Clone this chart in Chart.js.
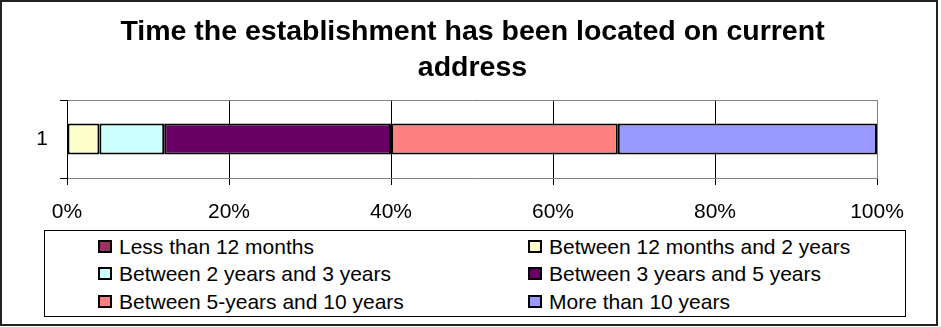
<!DOCTYPE html>
<html>
<head>
<meta charset="utf-8">
<script src="https://cdn.jsdelivr.net/npm/chart.js@4/dist/chart.umd.min.js"></script>
<style>
  html, body { margin: 0; padding: 0; background: #fff; }
  #wrap { position: relative; width: 941px; height: 327px; }
  #legend {
    position: absolute; left: 44px; top: 230px; width: 862px; height: 87px;
    border: 1px solid #000; box-sizing: border-box; background: #fff;
    font-family: "Liberation Sans", Arial, sans-serif; font-size: 21px; color: #000;
  }
  .item { position: absolute; height: 24px; line-height: 24px; white-space: nowrap; }
  .swatch { position: absolute; left: 0; top: 5px; width: 14px; height: 13px;
            border: 2px solid #000; box-sizing: border-box; }
  .label { position: absolute; left: 21px; top: 0; }
</style>
</head>
<body>
<div id="wrap">
  <canvas id="chart" width="941" height="327"></canvas>
  <div id="legend"></div>
</div>
<script>
const FONT = '"Liberation Sans", Arial, sans-serif';

const titleLines = ['Time the establishment has been located on current', 'address'];
const categories = ['1'];
const seriesNames = [
  'Less than 12 months',
  'Between 12 months and 2 years',
  'Between 2 years and 3 years',
  'Between 3 years and 5 years',
  'Between 5-years and 10 years',
  'More than 10 years'
];
const seriesValues = [0, 4, 8, 28, 28, 32];
const seriesColors = ['#993366', '#FFFFCC', '#CCFFFF', '#660066', '#FF8080', '#9999FF'];
const xTicks = [0, 20, 40, 60, 80, 100];

// white background and outer frame; the title is centred on the whole frame
const frame = {
  id: 'frame',
  afterLayout(chart) {
    const t = chart.titleBlock;
    if (t) { t.left = 4; t.right = 941; t.width = 937; }
  },
  beforeDraw(chart) {
    const c = chart.ctx;
    c.save();
    c.fillStyle = '#fff';
    c.fillRect(0, 0, chart.width, chart.height);
    c.strokeStyle = '#222';
    c.lineWidth = 2;
    c.strokeRect(1, 1, 936, 324);
    c.restore();
  }
};

new Chart(document.getElementById('chart'), {
  type: 'bar',
  data: {
    labels: categories,
    datasets: seriesNames.map((name, i) => ({
      label: name,
      data: [seriesValues[i]],
      backgroundColor: seriesColors[i],
      borderColor: '#000',
      borderWidth: 2,
      borderSkipped: false,
      barPercentage: 0.4,
      categoryPercentage: 1
    }))
  },
  options: {
    indexAxis: 'y',
    responsive: false,
    animation: false,
    devicePixelRatio: 1,
    layout: { padding: { left: 0, right: 64, top: 0, bottom: 103 } },
    plugins: {
      legend: { display: false },
      tooltip: { enabled: false },
      title: {
        display: true,
        text: titleLines,
        color: '#000',
        font: { family: FONT, size: 28.5, weight: 'bold', lineHeight: 36 / 28.5 },
        padding: { top: 14, bottom: 14 }
      }
    },
    scales: {
      x: {
        stacked: true,
        min: 0,
        max: 100,
        afterBuildTicks(s) { s.ticks = xTicks.map(v => ({ value: v })); },
        afterFit(s) { s.height = 46; },
        ticks: {
          color: '#000',
          font: { family: FONT, size: 21 },
          padding: 15,
          maxRotation: 0,
          callback: v => v + '%'
        },
        grid: {
          color: c => {
            const v = c.tick ? c.tick.value : null;
            if (v === 0) return 'rgba(0,0,0,0)';
            if (v === 100) return '#808080';
            return '#000';
          },
          tickColor: '#000',
          tickLength: 7,
          lineWidth: 1
        },
        border: { color: '#808080', width: 1 }
      },
      y: {
        stacked: true,
        afterFit(s) { s.width = 67; },
        ticks: { color: '#000', font: { family: FONT, size: 21 }, padding: 12 },
        grid: { color: '#808080', tickColor: '#000', tickLength: 7, lineWidth: 1 },
        border: { color: '#000', width: 1 }
      }
    }
  },
  plugins: [frame]
});

// legend: two columns, three rows, in a bordered box
const legend = document.getElementById('legend');
const colLeft = [53, 483];
const rowTop = [4, 31, 59];
seriesNames.forEach((name, i) => {
  const item = document.createElement('div');
  item.className = 'item';
  item.style.left = colLeft[i % 2] + 'px';
  item.style.top = rowTop[Math.floor(i / 2)] + 'px';
  const sw = document.createElement('span');
  sw.className = 'swatch';
  sw.style.background = seriesColors[i];
  const lb = document.createElement('span');
  lb.className = 'label';
  lb.textContent = name;
  item.appendChild(sw);
  item.appendChild(lb);
  legend.appendChild(item);
});
</script>
</body>
</html>
